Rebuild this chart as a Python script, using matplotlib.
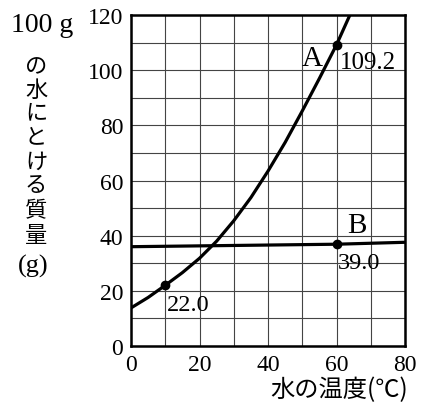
import matplotlib
matplotlib.use("Agg")
import matplotlib.pyplot as plt

# Data
temp_a = [0, 5, 10, 15, 20, 25, 30, 35, 40, 45, 50, 55, 60, 65, 70]
sol_a = [13.8, 17.6, 22.0, 26.6, 31.8, 38.0, 45.4, 53.8, 63.4, 73.8, 85.2, 97.0, 109.2, 123.0, 138.0]
temp_b = [0, 20, 40, 60, 80]
sol_b = [36.0, 36.3, 36.6, 36.9, 37.6]
pt_a = (60, 109.2)
pt_a10 = (10, 22.0)
pt_b = (60, 36.9)
xticks = [0, 20, 40, 60, 80]
yticks = [0, 20, 40, 60, 80, 100, 120]
ylabel_chars = ["の", "水", "に", "と", "け", "る", "質", "量"]
ylabel_char_y = [67, 90, 113, 137, 162, 186, 211, 236]  # pixel centres

W, H = 425, 406
fig = plt.figure(figsize=(W / 100, H / 100), dpi=100)
ax = fig.add_axes([131 / W, 1 - 347 / H, (405 - 131) / W, (347 - 16) / H])

serif = "Liberation Serif"
jp = ["Noto Sans CJK JP", "DejaVu Sans"]
fs = 17

ax.set_xlim(0, 80)
ax.set_ylim(0, 120)
ax.set_xticks(xticks)
ax.set_xticks(range(10, 80, 20), minor=True)
ax.set_yticks(yticks)
ax.set_yticks(range(10, 120, 20), minor=True)
ax.set_axisbelow(True)
ax.grid(True, which="both", color="#444444", linewidth=0.8)
ax.tick_params(which="both", length=0, pad=5.5)
ax.set_xticklabels([str(t) for t in xticks], fontfamily=serif, fontsize=fs)
ax.set_yticklabels([str(t) for t in yticks], fontfamily=serif, fontsize=fs)
for s in ax.spines.values():
    s.set_linewidth(1.8)

ax.plot(temp_a, sol_a, color="black", linewidth=2.3, solid_joinstyle="round")
ax.plot(temp_b, sol_b, color="black", linewidth=2.3)
for p in (pt_a, pt_a10, pt_b):
    ax.plot(*p, "o", color="black", markersize=6)

ax.text(49.8, 104.5, "A", fontfamily=serif, fontsize=21, va="center", ha="left")
ax.text(61, 103, f"{pt_a[1]:.1f}", fontfamily=serif, fontsize=18, va="center", ha="left")
ax.text(66, 43.8, "B", fontfamily=serif, fontsize=21, va="center", ha="center")
ax.text(60.4, 30.2, "39.0", fontfamily=serif, fontsize=17.5, va="center", ha="left")
ax.text(10.5, 15.0, f"{pt_a10[1]:.1f}", fontfamily=serif, fontsize=17.5, va="center", ha="left")

# y label
fig.text(42 / W, 1 - 25 / H, "100 g", fontfamily=serif, fontsize=20, ha="center", va="center")
for ch, py in zip(ylabel_chars, ylabel_char_y):
    fig.text(36 / W, 1 - py / H, ch, fontfamily=jp, fontsize=16, ha="center", va="center")
fig.text(33 / W, 1 - 266 / H, "(g)", fontfamily=serif, fontsize=19, ha="center", va="center")
# x label
fig.text(408 / W, 1 - 390 / H, "水の温度(℃)", fontfamily=jp, fontsize=17.5, ha="right", va="center")

fig.savefig("out.png", dpi=100)
